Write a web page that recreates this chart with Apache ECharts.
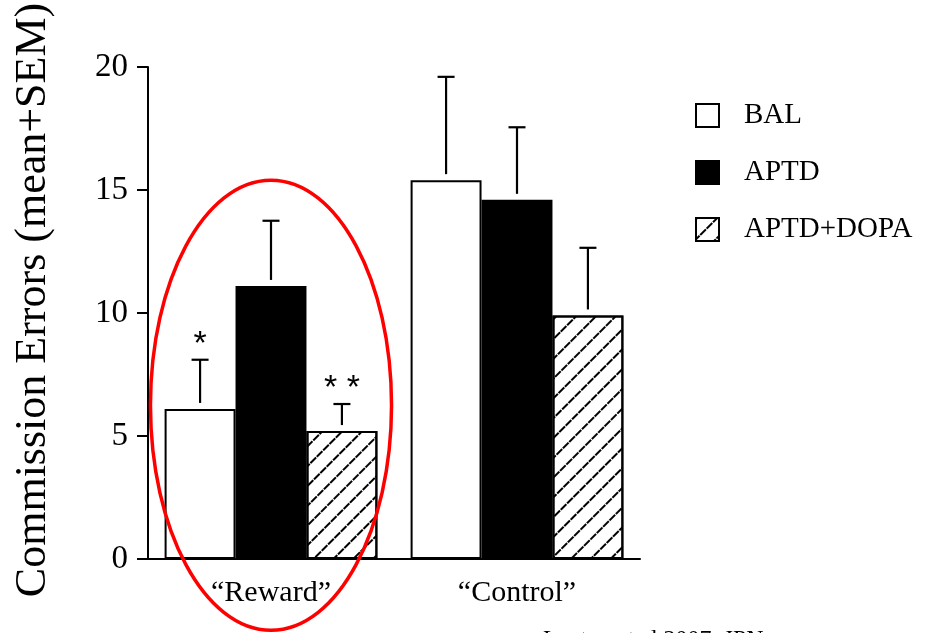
<!DOCTYPE html>
<html>
<head>
<meta charset="utf-8">
<script src="https://cdn.jsdelivr.net/npm/echarts@6/dist/echarts.min.js"></script>
<style>
  html, body { margin: 0; padding: 0; background: #fff; }
  #chart { width: 925px; height: 633px; }
</style>
</head>
<body>
<div id="chart"></div>
<script>
// Groups and conditions
const categories = ['“Reward”', '“Control”'];
const seriesNames = ['BAL', 'APTD', 'APTD+DOPA'];

// Commission errors: means and SEM per condition
const balMean = [6.1, 15.4];
const balSem = [2.0, 4.2];
const aptdMean = [11.1, 14.6];
const aptdSem = [2.65, 2.95];
const dopaMean = [5.2, 9.9];
const dopaSem = [1.1, 2.75];

// Significance markers shown above the error bars
const balMarks = ['*', ''];
const aptdMarks = ['', ''];
const dopaMarks = ['* *', ''];

// Value axis ticks
const yTicks = [0, 5, 10, 15, 20];

const SERIF = '"Liberation Serif", "Times New Roman", serif';
const CAT_GAP = 0.135;

const chart = echarts.init(document.getElementById('chart'), null, { renderer: 'canvas' });

function errorSeries(idx, means, sems, marks) {
  return {
    type: 'custom',
    name: seriesNames[idx] + ' SEM',
    z: 5,
    silent: true,
    data: means.map((m, i) => [i, m, m + sems[i]]),
    encode: { x: 0, y: [1, 2] },
    renderItem(params, api) {
      const band = api.size([1, 0])[0];
      const barW = band * (1 - CAT_GAP) / 3;
      const base = api.coord([api.value(0), api.value(1)]);
      const top = api.coord([api.value(0), api.value(2)]);
      const x = base[0] + (idx - 1) * barW;
      const y0 = base[1] - 6;
      const line = { stroke: '#000', lineWidth: 2.2 };
      const children = [
        { type: 'line', shape: { x1: x, y1: y0, x2: x, y2: top[1] }, style: line },
        { type: 'line', shape: { x1: x - 8.5, y1: top[1], x2: x + 8.5, y2: top[1] }, style: line }
      ];
      const mark = marks[params.dataIndex];
      if (mark) {
        children.push({
          type: 'text', x: x, y: top[1] + 2,
          style: { text: mark, font: '34px "Liberation Sans", Arial, sans-serif', fill: '#000', align: 'center', verticalAlign: 'bottom' }
        });
      }
      return { type: 'group', children: children };
    }
  };
}

const hatch = {
  symbol: 'rect',
  symbolSize: 1,
  color: '#000',
  dashArrayX: [8, 1],
  dashArrayY: [1.5, 11.5],
  rotation: -Math.PI / 4
};

const option = {
  animation: false,
  backgroundColor: '#fff',
  grid: { left: 148, right: 285, top: 67, bottom: 74, containLabel: false },
  legend: {
    data: seriesNames,
    orient: 'vertical',
    left: 690,
    top: 96,
    itemWidth: 23,
    itemHeight: 23,
    itemGap: 28,
    icon: 'rect',
    selectedMode: false,
    itemStyle: { borderWidth: 2, borderColor: '#000' },
    textStyle: { fontFamily: SERIF, fontSize: 29, color: '#000', padding: [0, 0, 0, 20] }
  },
  xAxis: {
    type: 'category',
    data: categories,
    axisLine: { lineStyle: { color: '#000', width: 2 } },
    axisTick: { alignWithLabel: true, length: 13, lineStyle: { color: '#000', width: 2 } },
    axisLabel: { fontFamily: SERIF, fontSize: 30, color: '#000', margin: 19 },
    splitLine: { show: false }
  },
  yAxis: {
    type: 'value',
    min: yTicks[0],
    max: yTicks[yTicks.length - 1],
    interval: yTicks[1] - yTicks[0],
    axisLine: { show: true, lineStyle: { color: '#000', width: 2 } },
    axisTick: { show: true, length: 11, lineStyle: { color: '#000', width: 2 } },
    axisLabel: { fontFamily: SERIF, fontSize: 33, color: '#000', margin: 20 },
    splitLine: { show: false }
  },
  series: [
    {
      type: 'bar', name: 'BAL', data: balMean,
      barGap: '0%', barCategoryGap: (CAT_GAP * 100) + '%',
      itemStyle: { color: '#fff', borderColor: '#000', borderWidth: 2 }
    },
    {
      type: 'bar', name: 'APTD', data: aptdMean,
      itemStyle: { color: '#000', borderColor: '#000', borderWidth: 2 }
    },
    {
      type: 'bar', name: 'APTD+DOPA', data: dopaMean,
      itemStyle: { color: '#fff', borderColor: '#000', borderWidth: 2, decal: hatch }
    },
    errorSeries(0, balMean, balSem, balMarks),
    errorSeries(1, aptdMean, aptdSem, aptdMarks),
    errorSeries(2, dopaMean, dopaSem, dopaMarks)
  ]
};

chart.setOption(option);

// Axis title, citation and the highlight ring around the "Reward" group
const ringCenter = chart.convertToPixel({ gridIndex: 0 }, [0, 6.25]);
const bandPx = chart.convertToPixel({ gridIndex: 0 }, [1, 0])[0] - chart.convertToPixel({ gridIndex: 0 }, [0, 0])[0];
chart.setOption({
  graphic: [
    {
      type: 'text', x: 33, y: 300, rotation: Math.PI / 2,
      style: { text: 'Commission Errors (mean+SEM)', font: '44px ' + SERIF, fill: '#000', align: 'center', verticalAlign: 'middle' }
    },
    {
      type: 'text', left: 543, top: 628,
      style: { text: 'Leyton et al 2007, JPN', font: '24px ' + SERIF, fill: '#000' }
    },
    {
      type: 'ellipse', z: 100,
      shape: { cx: ringCenter[0], cy: ringCenter[1], rx: bandPx * 0.49, ry: 225 },
      style: { fill: 'none', stroke: '#ff0000', lineWidth: 3.5 }
    }
  ]
});
</script>
</body>
</html>
